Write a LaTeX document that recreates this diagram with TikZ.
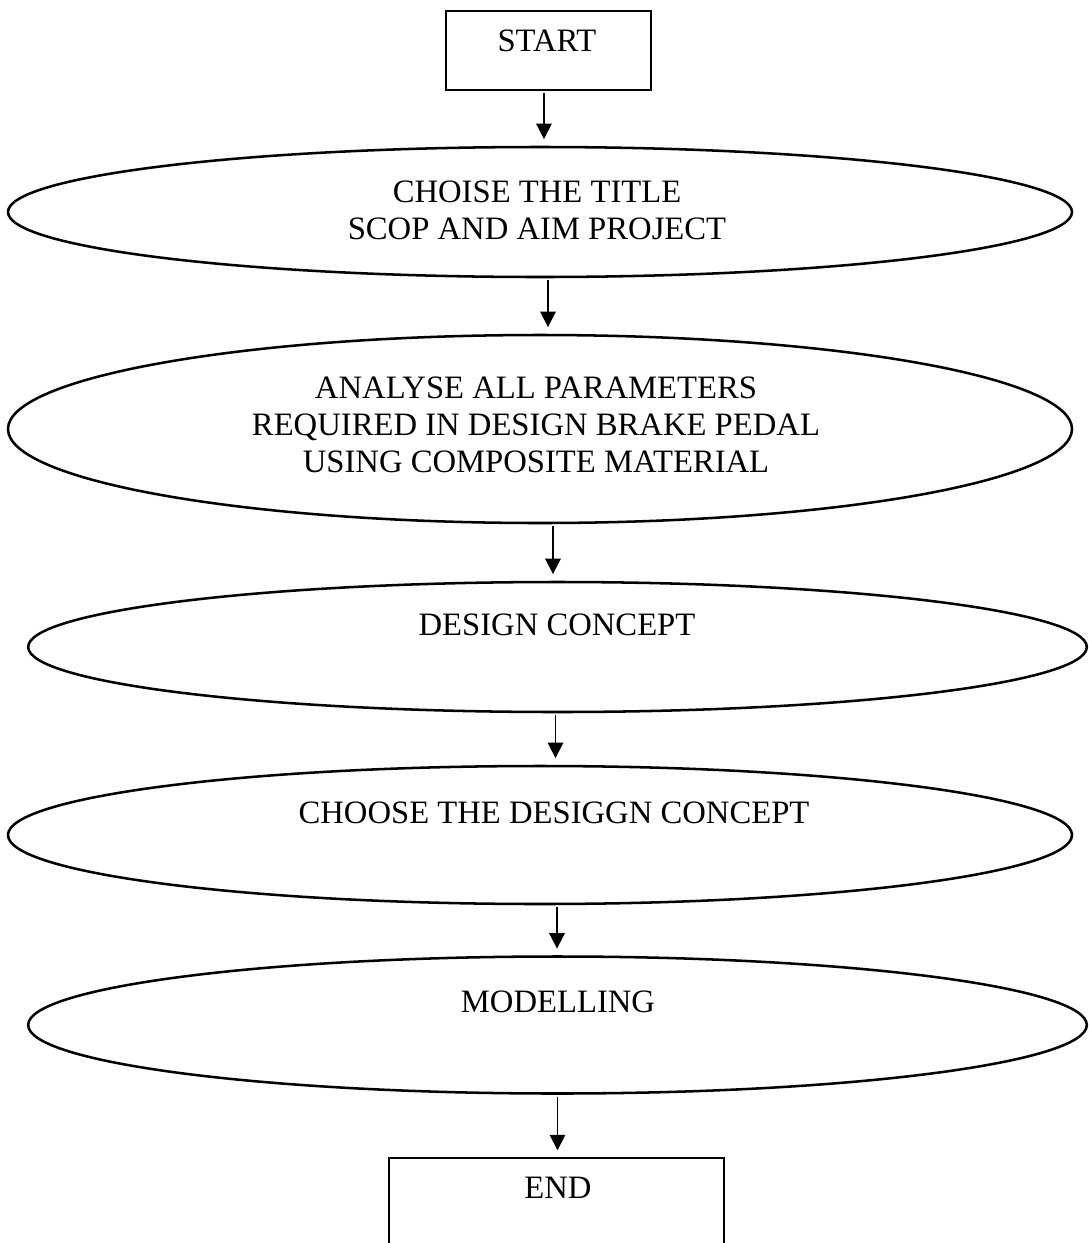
\documentclass[tikz,border=0pt]{standalone}
\usepackage{fontspec}
\setmainfont{Liberation Serif}
\usetikzlibrary{shapes.geometric,arrows.meta}
\begin{document}
\begin{tikzpicture}[x=0.75pt,y=-0.75pt,
  box/.style={draw,line width=1.6pt,rectangle,inner sep=0pt},
  oval/.style={draw,line width=1.9pt,ellipse,inner sep=0pt},
  lbl/.style={font=\fontsize{24.5}{27.75}\selectfont,align=center,inner sep=0pt},
  arr/.style={line width=1.3pt,-{Triangle[length=11.5pt,width=11.5pt]},shorten <=1.5pt,shorten >=5pt}]
\useasboundingbox (0,0) rectangle (1089,1243);
\clip (0,0) rectangle (1089,1243);
% shapes
\node[box,minimum width=153.75pt,minimum height=59.25pt] (s) at (548.5,50.5) {};
\node[oval,minimum width=798pt,minimum height=97.5pt] (e1) at (540,212) {};
\node[oval,minimum width=798pt,minimum height=141pt] (e2) at (540,429) {};
\node[oval,minimum width=794pt,minimum height=97.5pt] (e3) at (557.5,647) {};
\node[oval,minimum width=798pt,minimum height=103.5pt] (e4) at (540,835) {};
\node[oval,minimum width=794pt,minimum height=102.75pt] (e5) at (557.5,1025) {};
\node[box,minimum width=251.25pt,minimum height=69pt] (en) at (556.5,1204) {};
% texts
\node[lbl] (t0) at (547,41) {START};
\node[lbl] (t1) at (537,210.5) {CHOISE THE TITLE\\SCOP AND AIM PROJECT};
\node[lbl] (t2) at (536,425) {ANALYSE ALL PARAMETERS\\REQUIRED IN DESIGN BRAKE PEDAL\\USING COMPOSITE MATERIAL};
\node[lbl] (t3) at (557,625) {DESIGN CONCEPT};
\node[lbl] (t4) at (554,813) {CHOOSE THE DESIGGN CONCEPT};
\node[lbl] (t5) at (558,1002) {MODELLING};
\node[lbl] (t6) at (558,1188) {END};
% connectors
\draw[arr] ([xshift=-3.4pt]s.south) -- ([xshift=-3.4pt]s.south |- e1.north);
\draw[arr] ([xshift=6pt]e1.south) -- ([xshift=6pt]e1.south |- e2.north);
\draw[arr] ([xshift=9.75pt]e2.south) -- ([xshift=9.75pt]e2.south |- e3.north);
\draw[arr] ([xshift=-1.5pt]e3.south) -- ([xshift=-1.5pt]e3.south |- e4.north);
\draw[arr] ([xshift=12.75pt]e4.south) -- ([xshift=12.75pt]e4.south |- e5.north);
\draw[arr] (e5.south) -- (e5.south |- en.north);
\end{tikzpicture}
\end{document}
